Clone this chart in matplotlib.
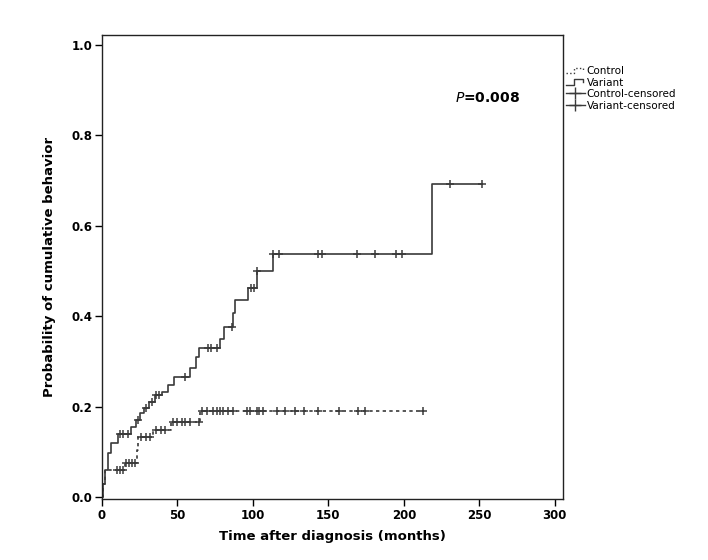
import numpy as np
import matplotlib
matplotlib.use('Agg')
import matplotlib.pyplot as plt
from matplotlib.lines import Line2D
from matplotlib.legend_handler import HandlerBase

# step curves: event times (months) and cumulative probability after each step
variant_t = [0, 1, 2, 4, 6, 10.5, 19, 22.5, 25, 28, 31, 35, 40, 44, 48, 58, 62, 64,
             78, 81, 86.5, 88, 96.5, 102.5, 113, 218.5]
variant_p = [0, 0.03, 0.06, 0.097, 0.12, 0.14, 0.155, 0.17, 0.186, 0.197, 0.21, 0.225,
             0.232, 0.248, 0.265, 0.285, 0.31, 0.33, 0.35, 0.377, 0.407, 0.435, 0.462,
             0.50, 0.538, 0.692]
variant_end = 252
variant_cens = [12, 14, 17, 24, 29, 33, 36, 38, 55, 70, 72, 76, 86, 99, 101, 103, 113,
                117, 143, 146, 169, 181, 195, 199, 230.5, 252]

control_t = [0, 1, 2, 15, 23, 24, 33.5, 45.5, 65]
control_p = [0, 0.03, 0.06, 0.075, 0.105, 0.133, 0.148, 0.166, 0.19]
control_end = 212.5
control_cens = [10, 12, 14, 16, 18, 20, 22, 26, 29, 32, 36, 39, 42, 47, 50, 53, 55, 58,
                64, 66, 69.5, 73.5, 76, 78, 80, 83.5, 87, 96, 98, 102.5, 104, 106.5, 116,
                121, 128, 134, 143, 157, 169.5, 174, 212.5]

p_text = '0.008'

line_col = '#3a3a3a'


def step_at(ts, ps, x):
    i = np.searchsorted(ts, x, side='right') - 1
    return np.array(ps)[i]


class StepHandler(HandlerBase):
    def __init__(self, ls):
        super().__init__()
        self.ls = ls

    def create_artists(self, legend, orig_handle, xdescent, ydescent, width, height, fontsize, trans):
        x = [0, width * 0.45, width * 0.45, width * 0.9, width * 0.9]
        y = [height * 0.1, height * 0.1, height * 0.85, height * 0.85, height * 0.5]
        ln = Line2D(x, y, color=line_col, lw=1, ls=self.ls, transform=trans)
        return [ln]


fig = plt.figure(figsize=(7.08, 5.6), dpi=100)
ax = fig.add_axes([0.144, 0.109, 0.651, 0.8285])

vt = variant_t + [variant_end]
vp = variant_p + [variant_p[-1]]
ax.step(vt, vp, where='post', color=line_col, lw=1.2)
ct = control_t + [control_end]
cp = control_p + [control_p[-1]]
ax.step(ct, cp, where='post', color=line_col, lw=1.2, ls=(0, (2, 2)))

ax.plot(variant_cens, step_at(variant_t, variant_p, variant_cens), ls='none',
        marker='+', ms=5.5, mew=1.1, color=line_col)
ax.plot(control_cens, step_at(control_t, control_p, control_cens), ls='none',
        marker='+', ms=5.5, mew=1.1, color=line_col)

ax.set_xlim(0, 305.3)
ax.set_ylim(-0.004, 1.022)
ax.set_xticks([0, 50, 100, 150, 200, 250, 300])
ax.set_yticks([0.0, 0.2, 0.4, 0.6, 0.8, 1.0])
ax.set_yticklabels(['0.0', '0.2', '0.4', '0.6', '0.8', '1.0'])
ax.tick_params(direction='out', length=5, width=1, labelsize=8.5, pad=2)
for lab in ax.get_xticklabels() + ax.get_yticklabels():
    lab.set_fontweight('bold')
for s in ax.spines.values():
    s.set_linewidth(1)
    s.set_color('#222222')

ax.set_xlabel('Time after diagnosis (months)', fontsize=9.5, fontweight='bold', labelpad=6)
ax.set_ylabel('Probability of cumulative behavior', fontsize=9.5, fontweight='bold', labelpad=11)

ax.text(234, 0.883, r'$\bf\it{P}$' + '=' + p_text, fontsize=10, fontweight='bold',
        va='center', ha='left')

h_ctrl = Line2D([], [], color=line_col, ls=':')
h_var = Line2D([], [], color=line_col)
h_cc = Line2D([], [], color=line_col, marker='+', ms=8, lw=1)
h_vc = Line2D([], [], color=line_col, marker='+', ms=8, lw=1)
ax.legend([h_ctrl, h_var, h_cc, h_vc],
          ['Control', 'Variant', 'Control-censored', 'Variant-censored'],
          handler_map={h_ctrl: StepHandler(':'), h_var: StepHandler('-')},
          loc='upper left', bbox_to_anchor=(1.0, 0.94), frameon=False,
          fontsize=7.5, handlelength=1.8, handletextpad=0.2, labelspacing=0.15,
          borderaxespad=0.2, borderpad=0.1)

fig.savefig('out.png', dpi=100)
